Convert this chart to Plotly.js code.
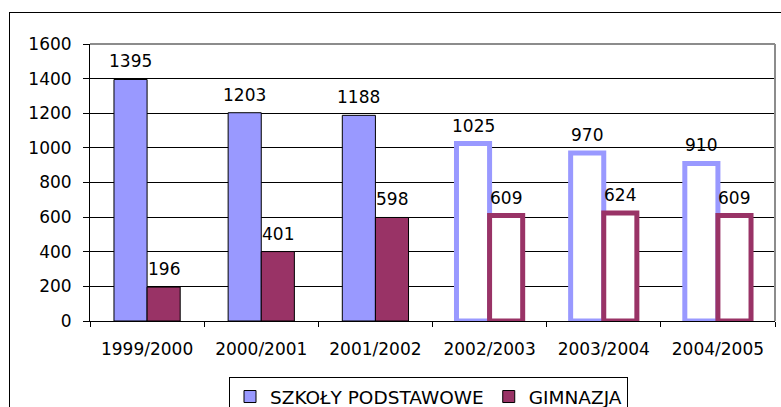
<!DOCTYPE html>
<html>
<head>
<meta charset="utf-8">
<script src="https://cdn.plot.ly/plotly-3.0.1.min.js"></script>
<style>
  html, body { margin: 0; padding: 0; background: #fff; overflow: hidden; }
  #wrap { position: relative; width: 781px; height: 407px; overflow: hidden; }
  #chart { position: absolute; left: 0; top: 0; width: 781px; height: 407px; }
  #frame { position: absolute; left: 9px; top: 12px; width: 800px; height: 420px;
           border: 1px solid #000; pointer-events: none; box-sizing: border-box; }
</style>
</head>
<body>
<div id="wrap">
  <div id="chart"></div>
  <div id="frame"></div>
</div>
<script>
// ---- data ----
const categories = ['1999/2000', '2000/2001', '2001/2002', '2002/2003', '2003/2004', '2004/2005'];
const szkolyPodstawowe = [1395, 1203, 1188, 1025, 970, 910];
const gimnazja = [196, 401, 598, 609, 624, 609];
const projected = [false, false, false, true, true, true];
const seriesNames = ['SZKOŁY PODSTAWOWE', 'GIMNAZJA'];
const yTicks = [0, 200, 400, 600, 800, 1000, 1200, 1400, 1600];

// ---- styles ----
const BLUE = '#9999FF';
const MAROON = '#993366';
const FONT = 'DejaVu Sans, Arial, sans-serif';

function barTrace(name, values, color) {
  return {
    type: 'bar',
    name: name,
    x: categories,
    y: values,
    marker: {
      color: projected.map(p => p ? '#FFFFFF' : color),
      line: {
        color: projected.map(p => p ? color : '#000000'),
        width: projected.map(p => p ? 5 : 1)
      }
    },
    hoverinfo: 'x+y'
  };
}

const traces = [
  barTrace(seriesNames[0], szkolyPodstawowe, BLUE),
  barTrace(seriesNames[1], gimnazja, MAROON)
];

const plotW = 781 - 90 - 6;
const plotH = 407 - 44 - 86;
const catW = plotW / categories.length;
const bargap = 0.42;
const barW = catW * (1 - bargap) / 2;

const annotations = [];
[szkolyPodstawowe, gimnazja].forEach((vals, si) => {
  vals.forEach((v, i) => {
    annotations.push({
      x: categories[i], y: v, xref: 'x', yref: 'y',
      text: String(v), showarrow: false,
      xshift: (si === 0 ? -1 : 1) * barW / 2,
      yanchor: 'bottom', yshift: 6,
      font: { family: FONT, size: 17, color: '#000' }
    });
  });
});

const layout = {
  width: 781, height: 407,
  margin: { l: 90, r: 6, t: 44, b: 86, autoexpand: false },
  paper_bgcolor: '#fff', plot_bgcolor: '#fff',
  barmode: 'group', bargap: bargap, bargroupgap: 0,
  font: { family: FONT, size: 17, color: '#000' },
  showlegend: true,
  legend: {
    orientation: 'h', x: (229 - 90) / plotW, y: -56 / plotH, xanchor: 'left', yanchor: 'top',
    bordercolor: '#000', borderwidth: 1, bgcolor: '#fff',
    font: { family: FONT, size: 18.5, color: '#000' },
    itemwidth: 30, tracegroupgap: 0
  },
  xaxis: {
    type: 'category',
    tickson: 'boundaries', ticks: 'outside', ticklen: 5, tickcolor: '#000',
    showline: true, linecolor: '#000', linewidth: 1,
    showgrid: false, fixedrange: true,
    tickfont: { family: FONT, size: 17, color: '#000' },
    ticklabelstandoff: 13
  },
  yaxis: {
    range: [0, 1600], tickvals: yTicks, ticktext: yTicks.map(String),
    ticks: 'outside', ticklen: 6, tickcolor: '#000',
    showline: true, linecolor: '#000', linewidth: 1,
    showgrid: true, gridcolor: '#000', gridwidth: 1,
    zeroline: false, fixedrange: true,
    tickfont: { family: FONT, size: 17, color: '#000' },
    ticklabelstandoff: 8
  },
  shapes: [
    { type: 'line', xref: 'paper', yref: 'paper', x0: 0, x1: 1, y0: 1, y1: 1,
      line: { color: '#8c8c8c', width: 2 } },
    { type: 'line', xref: 'paper', yref: 'paper', x0: 1, x1: 1, y0: 0, y1: 1,
      line: { color: '#8c8c8c', width: 2 } }
  ],
  annotations: annotations
};

Plotly.newPlot('chart', traces, layout, { staticPlot: true, displayModeBar: false });
</script>
</body>
</html>
